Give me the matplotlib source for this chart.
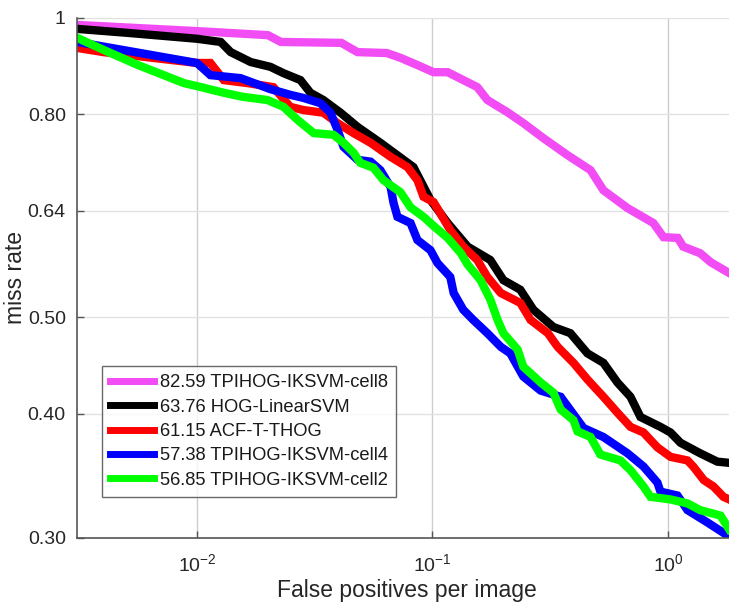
import numpy as np
import matplotlib.pyplot as plt

plt.rcParams['font.family'] = ['Liberation Sans', 'DejaVu Sans']
plt.rcParams['mathtext.default'] = 'regular'

# ROC-style curves: false positives per image vs miss rate
labels = ['82.59 TPIHOG-IKSVM-cell8', '63.76 HOG-LinearSVM', '61.15 ACF-T-THOG',
          '57.38 TPIHOG-IKSVM-cell4', '56.85 TPIHOG-IKSVM-cell2']
colors = ['#f24cf5', '#000000', '#ff0000', '#0000ff', '#00ff00']

fppi_cell8 = [0.0031, 0.010, 0.020, 0.0227, 0.041, 0.048, 0.064, 0.073, 0.086, 0.101, 0.116,
              0.155, 0.171, 0.208, 0.243, 0.296, 0.374, 0.469, 0.532, 0.673, 0.867, 0.957,
              1.10, 1.16, 1.37, 1.52, 1.82]
mr_cell8 = [0.984, 0.970, 0.961, 0.946, 0.944, 0.924, 0.922, 0.912, 0.897, 0.882, 0.882,
            0.852, 0.827, 0.804, 0.784, 0.757, 0.728, 0.703, 0.671, 0.644, 0.622, 0.602,
            0.601, 0.589, 0.580, 0.568, 0.554]

fppi_hog = [0.0031, 0.0051, 0.0100, 0.0126, 0.0139, 0.0169, 0.0205, 0.0233, 0.0275, 0.0303,
            0.0344, 0.0407, 0.0481, 0.0601, 0.0830, 0.0981, 0.116, 0.141, 0.176, 0.200,
            0.236, 0.268, 0.326, 0.385, 0.455, 0.532, 0.610, 0.693, 0.764, 0.929, 1.025,
            1.13, 1.37, 1.62, 1.82]
mr_hog = [0.975, 0.966, 0.953, 0.946, 0.924, 0.903, 0.893, 0.880, 0.866, 0.841,
          0.827, 0.803, 0.777, 0.749, 0.708, 0.656, 0.622, 0.589, 0.571, 0.545,
          0.533, 0.509, 0.489, 0.482, 0.460, 0.450, 0.430, 0.416, 0.397, 0.388, 0.383,
          0.374, 0.365, 0.358, 0.357]

fppi_acf = [0.0031, 0.0040, 0.0100, 0.0114, 0.0130, 0.0164, 0.0211, 0.0249, 0.0283, 0.0344,
            0.0395, 0.0462, 0.0546, 0.0664, 0.0783, 0.0863, 0.0916, 0.101, 0.108, 0.119,
            0.135, 0.155, 0.171, 0.195, 0.236, 0.261, 0.309, 0.340, 0.397, 0.455, 0.532,
            0.610, 0.693, 0.787, 0.902, 1.025, 1.21, 1.28, 1.42, 1.56, 1.72, 1.82]
mr_acf = [0.933, 0.924, 0.901, 0.901, 0.866, 0.860, 0.852, 0.814, 0.808, 0.803,
          0.784, 0.766, 0.749, 0.725, 0.708, 0.687, 0.661, 0.653, 0.636, 0.612,
          0.589, 0.571, 0.549, 0.529, 0.517, 0.497, 0.482, 0.467, 0.450, 0.433, 0.416,
          0.401, 0.388, 0.383, 0.370, 0.362, 0.359, 0.354, 0.343, 0.338, 0.330, 0.328]

fppi_cell4 = [0.0031, 0.0100, 0.0114, 0.0153, 0.0205, 0.0249, 0.0283, 0.0334, 0.0369, 0.0395,
              0.0419, 0.0481, 0.0546, 0.0601, 0.0664, 0.0683, 0.0710, 0.0807, 0.0863, 0.0981,
              0.105, 0.119, 0.123, 0.135, 0.149, 0.171, 0.195, 0.214, 0.243, 0.288, 0.350,
              0.438, 0.532, 0.673, 0.787, 0.902, 0.929, 1.097, 1.21, 1.47, 1.82]
mr_cell4 = [0.946, 0.901, 0.876, 0.870, 0.848, 0.837, 0.831, 0.821, 0.803, 0.772,
            0.742, 0.720, 0.717, 0.703, 0.676, 0.652, 0.631, 0.622, 0.598, 0.584,
            0.567, 0.549, 0.529, 0.509, 0.497, 0.482, 0.467, 0.460, 0.436, 0.422, 0.416,
            0.387, 0.379, 0.365, 0.354, 0.341, 0.334, 0.331, 0.320, 0.311, 0.301]

fppi_cell2 = [0.0031, 0.0040, 0.0056, 0.0088, 0.0100, 0.0130, 0.0157, 0.0199, 0.0233, 0.0267,
              0.0313, 0.0380, 0.0419, 0.0462, 0.0494, 0.0561, 0.0619, 0.0731, 0.0807, 0.0916,
              0.101, 0.116, 0.132, 0.141, 0.160, 0.176, 0.189, 0.200, 0.230, 0.243, 0.288,
              0.326, 0.350, 0.397, 0.413, 0.469, 0.516, 0.628, 0.693, 0.787, 0.843, 1.025,
              1.21, 1.37, 1.67, 1.82]
mr_cell2 = [0.955, 0.929, 0.897, 0.860, 0.854, 0.841, 0.833, 0.827, 0.814, 0.790,
            0.766, 0.763, 0.749, 0.732, 0.715, 0.707, 0.687, 0.668, 0.645, 0.631,
            0.618, 0.601, 0.580, 0.565, 0.545, 0.521, 0.497, 0.482, 0.464, 0.446, 0.430,
            0.420, 0.404, 0.394, 0.384, 0.379, 0.364, 0.359, 0.351, 0.338, 0.330, 0.328,
            0.325, 0.320, 0.316, 0.306]

yticks = [0.30, 0.40, 0.50, 0.64, 0.80, 1.0]
ytick_labels = ['0.30', '0.40', '0.50', '0.64', '0.80', '1']
xticks = [0.01, 0.1, 1.0]
xtick_labels = ['$10^{-2}$', '$10^{-1}$', '$10^{0}$']

series = [(fppi_cell8, mr_cell8), (fppi_hog, mr_hog), (fppi_acf, mr_acf),
          (fppi_cell4, mr_cell4), (fppi_cell2, mr_cell2)]

fig = plt.figure(figsize=(7.29, 6.09), dpi=100)
ax = fig.add_axes([0.1056, 0.1166, 0.8944, 0.8539])

for (x, y), lab, c in zip(series, labels, colors):
    ax.plot(x, y, color=c, lw=6, label=lab, solid_joinstyle='miter')

ax.set_xscale('log')
ax.set_yscale('log')
ax.set_xlim(0.003093, 1.816)
ax.set_ylim(0.30, 1.0)

ax.set_yticks(yticks)
ax.set_yticklabels(ytick_labels)
ax.set_xticks(xticks)
ax.set_xticklabels(xtick_labels)
ax.minorticks_off()
ax.tick_params(direction='in', length=5, width=1, color='#555555',
               labelsize=14, labelcolor='#262626', pad=8)
ax.tick_params(axis='x', pad=11)

ax.grid(True, axis='y', color='#e2e2e2', lw=1)
ax.grid(True, axis='x', color='#cdcdcd', lw=1)
ax.set_axisbelow(True)
for s in ['top', 'right']:
    ax.spines[s].set_visible(False)
for s in ['left', 'bottom']:
    ax.spines[s].set_color('#555555')
    ax.spines[s].set_linewidth(1.2)

ax.set_xlabel('False positives per image', fontsize=16.5, color='#262626')
ax.xaxis.set_label_coords(0.506, -0.079)
ax.set_ylabel('miss rate', fontsize=16.5, color='#262626')
ax.yaxis.set_label_coords(-0.076, 0.5)

leg = ax.legend(loc='lower left', bbox_to_anchor=(0.038, 0.079), borderaxespad=0,
                fontsize=13.2, frameon=True, fancybox=False, handlelength=2.4,
                handletextpad=0.3, labelspacing=0.4, borderpad=0.45)
leg.get_frame().set_edgecolor('#444444')
leg.get_frame().set_linewidth(1.0)
for line in leg.get_lines():
    line.set_linewidth(5)
for t in leg.get_texts():
    t.set_color('#1a1a1a')

fig.savefig('out.png', dpi=100)
